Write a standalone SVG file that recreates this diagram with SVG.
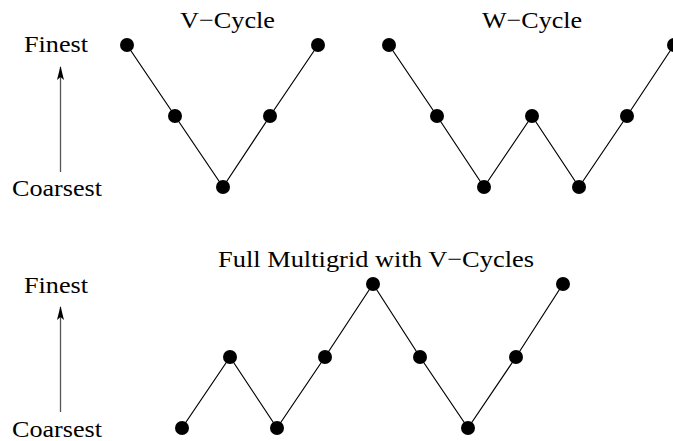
<svg xmlns="http://www.w3.org/2000/svg" width="673" height="441" viewBox="0 0 673 441">
<style>
text{font-family:"Liberation Serif","Times New Roman",serif;font-size:24px;fill:#000}
.n{fill:#000}
.e{stroke:#000;stroke-width:1.2;fill:none}
.ax{stroke:#555;stroke-width:1.3}
</style>
<defs>
<marker id="ah" markerWidth="14" markerHeight="7" refX="13" refY="3.5" orient="auto" markerUnits="userSpaceOnUse" viewBox="0 0 14 7">
<path d="M0,0 L14,3.5 L0,7 L3,3.5 Z" fill="#000"/>
</marker>
</defs>
<rect width="673" height="441" fill="#fff"/>
<g id="labels">
<text x="180" y="28" textLength="95" lengthAdjust="spacingAndGlyphs">V−Cycle</text>
<text x="482" y="28" textLength="100" lengthAdjust="spacingAndGlyphs">W−Cycle</text>
<text x="24" y="52" textLength="64" lengthAdjust="spacingAndGlyphs">Finest</text>
<text x="12" y="196" textLength="90" lengthAdjust="spacingAndGlyphs">Coarsest</text>
<text x="218" y="267" textLength="316" lengthAdjust="spacingAndGlyphs">Full Multigrid with V−Cycles</text>
<text x="24" y="293" textLength="64" lengthAdjust="spacingAndGlyphs">Finest</text>
<text x="12" y="437" textLength="90" lengthAdjust="spacingAndGlyphs">Coarsest</text>
</g>
<g id="axes">
<line class="ax" x1="60.5" y1="172" x2="60.5" y2="67" marker-end="url(#ah)"/>
<line class="ax" x1="60.5" y1="412" x2="60.5" y2="307" marker-end="url(#ah)"/>
</g>
<g id="connectors">
<polyline class="e" points="127,45 175,116 223,187 270,116 318,45"/>
<polyline class="e" points="389,45 437,116 484,187 532,116 579,187 627,116 674,45"/>
<polyline class="e" points="182,428 230,357 277,428 325,357 373,284 420,357 468,428 516,357 563,284"/>
</g>
<g id="vcycle">
<circle id="v1" class="n" cx="127" cy="45" r="7"/>
<circle id="v2" class="n" cx="175" cy="116" r="7"/>
<circle id="v3" class="n" cx="223" cy="187" r="7"/>
<circle id="v4" class="n" cx="270" cy="116" r="7"/>
<circle id="v5" class="n" cx="318" cy="45" r="7"/>
</g>
<g id="wcycle">
<circle id="w1" class="n" cx="389" cy="45" r="7"/>
<circle id="w2" class="n" cx="437" cy="116" r="7"/>
<circle id="w3" class="n" cx="484" cy="187" r="7"/>
<circle id="w4" class="n" cx="532" cy="116" r="7"/>
<circle id="w5" class="n" cx="579" cy="187" r="7"/>
<circle id="w6" class="n" cx="627" cy="116" r="7"/>
<circle id="w7" class="n" cx="674" cy="45" r="7"/>
</g>
<g id="fmg">
<circle id="f1" class="n" cx="182" cy="428" r="7"/>
<circle id="f2" class="n" cx="230" cy="357" r="7"/>
<circle id="f3" class="n" cx="277" cy="428" r="7"/>
<circle id="f4" class="n" cx="325" cy="357" r="7"/>
<circle id="f5" class="n" cx="373" cy="284" r="7"/>
<circle id="f6" class="n" cx="420" cy="357" r="7"/>
<circle id="f7" class="n" cx="468" cy="428" r="7"/>
<circle id="f8" class="n" cx="516" cy="357" r="7"/>
<circle id="f9" class="n" cx="563" cy="284" r="7"/>
</g>
</svg>
